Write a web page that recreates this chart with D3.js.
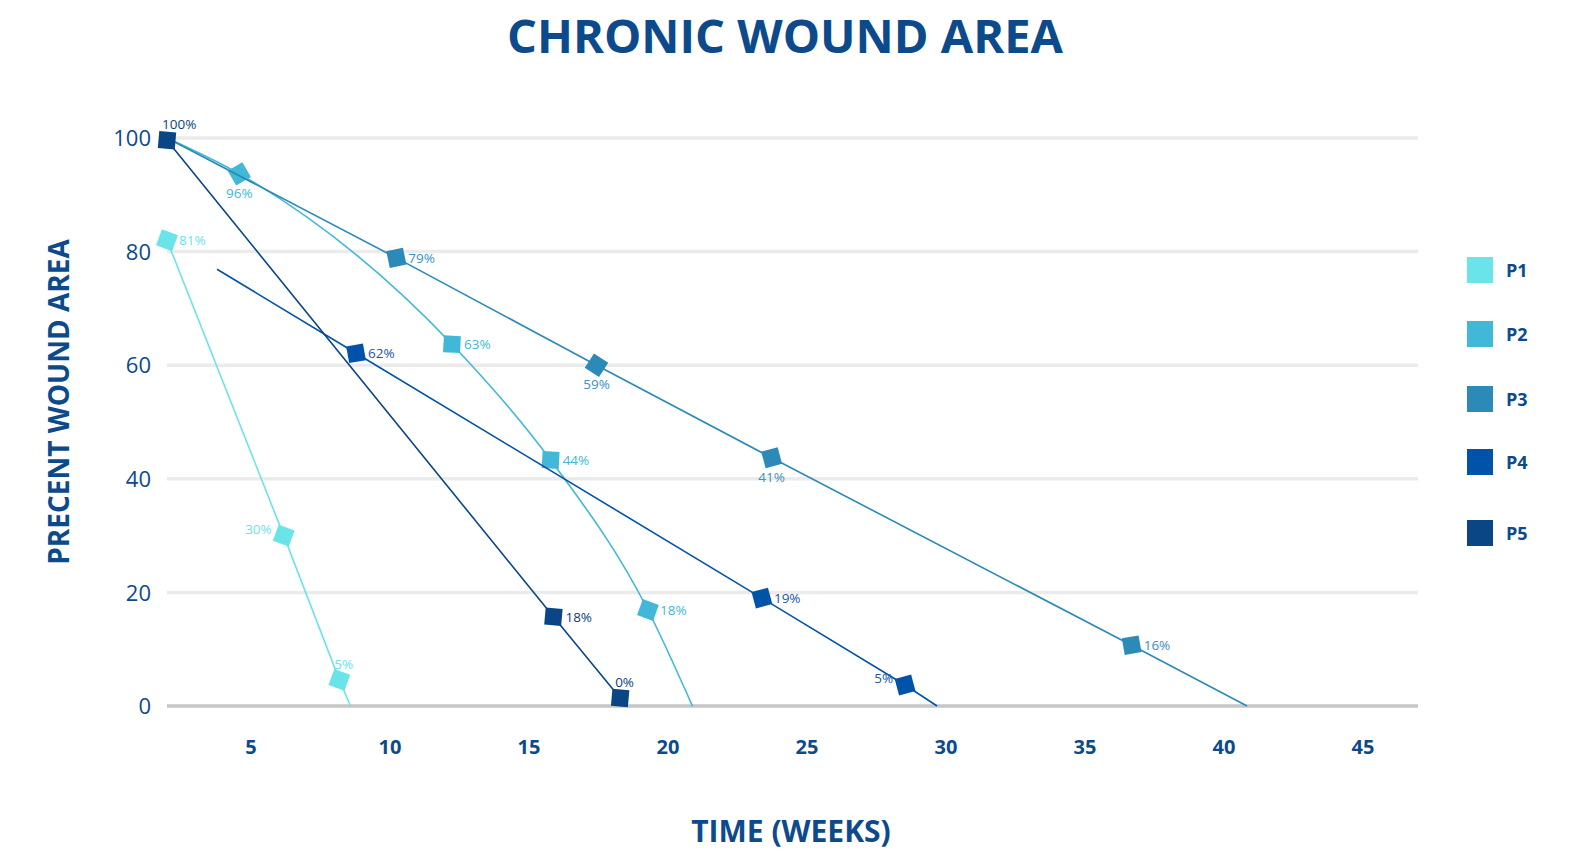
<!DOCTYPE html>
<html>
<head>
<meta charset="utf-8">
<script src="https://cdn.jsdelivr.net/npm/d3@7"></script>
<style>
  body { margin: 0; background: #fff; font-family: "Open Sans", sans-serif; }
</style>
</head>
<body>
<svg width="1577" height="853"></svg>
<script>
// chart data
var series = ["P1", "P2", "P3", "P4", "P5"];
var colors = ["#6ae4e8", "#41b8d8", "#2b8ab8", "#0053a8", "#0a4585"];
var labelColors = ["#6ae4e8", "#41b8d8", "#3c8fc0", "#1a55a8", "#0d3f7c"];

var p1Weeks = [2, 6.2, 8.2, 8.6];
var p1Values = [82, 30, 4.6, 0];
var p1Labels = ["81%", "30%", "5%", null];
var p1Pos = ["r", "l", "t", null];

var p2Weeks = [2, 4.6, 12.25, 15.8, 19.3, 20.9];
var p2Values = [100, 93.7, 63.7, 43.3, 16.9, 0];
var p2Labels = [null, "96%", "63%", "44%", "18%", null];
var p2Pos = [null, "b", "r", "r", "r", null];

var p3Weeks = [2, 10.25, 17.45, 23.75, 36.7, 40.85];
var p3Values = [100, 78.9, 60, 43.7, 10.7, 0];
var p3Labels = [null, "79%", "59%", "41%", "16%", null];
var p3Pos = [null, "r", "b", "b", "r", null];

var p4Weeks = [3.8, 8.8, 23.4, 28.55, 29.7];
var p4Values = [76.9, 62.1, 19, 3.7, 0];
var p4Labels = [null, "62%", "19%", "5%", null];
var p4Pos = [null, "r", "r", "l", null];

var p5Weeks = [2, 15.9, 18.3];
var p5Values = [99.6, 15.7, 1.4];
var p5Labels = ["100%", "18%", "0%"];
var p5Pos = ["t", "r", "t"];

var xTicks = [5, 10, 15, 20, 25, 30, 35, 40, 45];
var yTicks = [0, 20, 40, 60, 80, 100];

// marker tilt in degrees (the markers are hand-turned squares)
var tilts = [
    [20, 20, 20, 0],
    [0, -30, 3, 3, 20, 0],
    [0, -12, 33, -15, -10, 0],
    [0, -10, -15, -15, 0],
    [5, 5, 5]
];

var allWeeks = [p1Weeks, p2Weeks, p3Weeks, p4Weeks, p5Weeks];
var allValues = [p1Values, p2Values, p3Values, p4Values, p5Values];
var allLabels = [p1Labels, p2Labels, p3Labels, p4Labels, p5Labels];
var allPos = [p1Pos, p2Pos, p3Pos, p4Pos, p5Pos];

var svg = d3.select("svg");
var dark = "#0d4a8c";

var x = d3.scaleLinear().domain([2, 47]).range([167, 1418]);
var y = d3.scaleLinear().domain([0, 100]).range([706, 138]);

// title
svg.append("text")
    .attr("x", 785).attr("y", 53)
    .attr("text-anchor", "middle")
    .style("font-size", "47px").style("font-weight", 700)
    .style("fill", dark)
    .text("CHRONIC WOUND AREA");

// gridlines
svg.append("g").selectAll("line")
    .data(yTicks.filter(function(d) { return d > 0; }))
    .enter().append("line")
    .attr("x1", 167).attr("x2", 1418)
    .attr("y1", function(d) { return y(d); })
    .attr("y2", function(d) { return y(d); })
    .style("stroke", "#ebebeb").attr("stroke-width", 3.5);

svg.append("line")
    .attr("x1", 167).attr("x2", 1418)
    .attr("y1", y(0)).attr("y2", y(0))
    .style("stroke", "#c6c6c6").attr("stroke-width", 3.5);

// y axis labels
var yAxis = svg.append("g")
    .attr("transform", "translate(151,0)")
    .call(d3.axisLeft(y).tickValues(yTicks).tickSize(0).tickPadding(0));
yAxis.select(".domain").remove();
yAxis.selectAll("text")
    .style("font-family", "Open Sans").style("font-size", "22px")
    .style("fill", dark).attr("dy", "0.35em");

// x axis labels
var xAxis = svg.append("g")
    .attr("transform", "translate(0,740)")
    .call(d3.axisBottom(x).tickValues(xTicks).tickSize(0).tickPadding(0));
xAxis.select(".domain").remove();
xAxis.selectAll("text")
    .style("font-family", "Open Sans").style("font-size", "20px")
    .style("font-weight", 700).style("fill", dark);

// axis titles
svg.append("text")
    .attr("x", 791).attr("y", 842)
    .attr("text-anchor", "middle")
    .style("font-size", "30px").style("font-weight", 700)
    .style("fill", dark)
    .text("TIME (WEEKS)");

svg.append("text")
    .attr("transform", "translate(69,402) rotate(-90)")
    .attr("text-anchor", "middle")
    .style("font-size", "28px").style("font-weight", 700)
    .style("fill", dark)
    .text("PRECENT WOUND AREA");

// build point lists
var data = series.map(function(name, i) {
    return {
        name: name, color: colors[i], labelColor: labelColors[i],
        points: allWeeks[i].map(function(w, j) {
            return {week: w, value: allValues[i][j], label: allLabels[i][j], pos: allPos[i][j], tilt: tilts[i][j]};
        })
    };
});

var line = d3.line()
    .x(function(d) { return x(d.week); })
    .y(function(d) { return y(d.value); });

var curvy = d3.line()
    .x(function(d) { return x(d.week); })
    .y(function(d) { return y(d.value); })
    .curve(d3.curveMonotoneX);

var g = svg.append("g").selectAll("g")
    .data(data).enter().append("g");

g.append("path")
    .attr("d", function(d) { return d.name == "P2" ? curvy(d.points) : line(d.points); })
    .style("fill", "none")
    .style("stroke", function(d) { return d.color; })
    .attr("stroke-width", 1.6);

g.each(function(s) {
    var grp = d3.select(this);
    s.points.forEach(function(p) {
        if (!p.label) return;
        var px = x(p.week), py = y(p.value);
        grp.append("rect")
            .attr("x", -8.5).attr("y", -8.5).attr("width", 17).attr("height", 17)
            .attr("transform", "translate(" + px + "," + py + ") rotate(" + p.tilt + ")")
            .style("fill", s.color);
        var tx = px, ty = py, anchor = "start";
        if (p.pos == "r") { tx = px + 12; ty = py + 5; }
        if (p.pos == "l") { tx = px - 12; ty = py - 2; anchor = "end"; }
        if (p.pos == "b") { tx = px; ty = py + 24; anchor = "middle"; }
        if (p.pos == "t") { tx = px - 5; ty = py - 11; }
        grp.append("text")
            .attr("x", tx).attr("y", ty)
            .attr("text-anchor", anchor)
            .style("font-size", "13.5px")
            .style("fill", s.labelColor)
            .text(p.label);
    });
});

// legend
var legendY = [270, 334, 399, 462, 533];
var legend = svg.append("g").selectAll("g")
    .data(data).enter().append("g")
    .attr("transform", function(d, i) { return "translate(1467," + legendY[i] + ")"; });

legend.append("rect")
    .attr("x", 0).attr("y", -13).attr("width", 26).attr("height", 26)
    .style("fill", function(d) { return d.color; });

legend.append("text")
    .attr("x", 39).attr("y", 7)
    .style("font-size", "18px").style("font-weight", 700)
    .style("fill", dark)
    .text(function(d) { return d.name; });
</script>
</body>
</html>
